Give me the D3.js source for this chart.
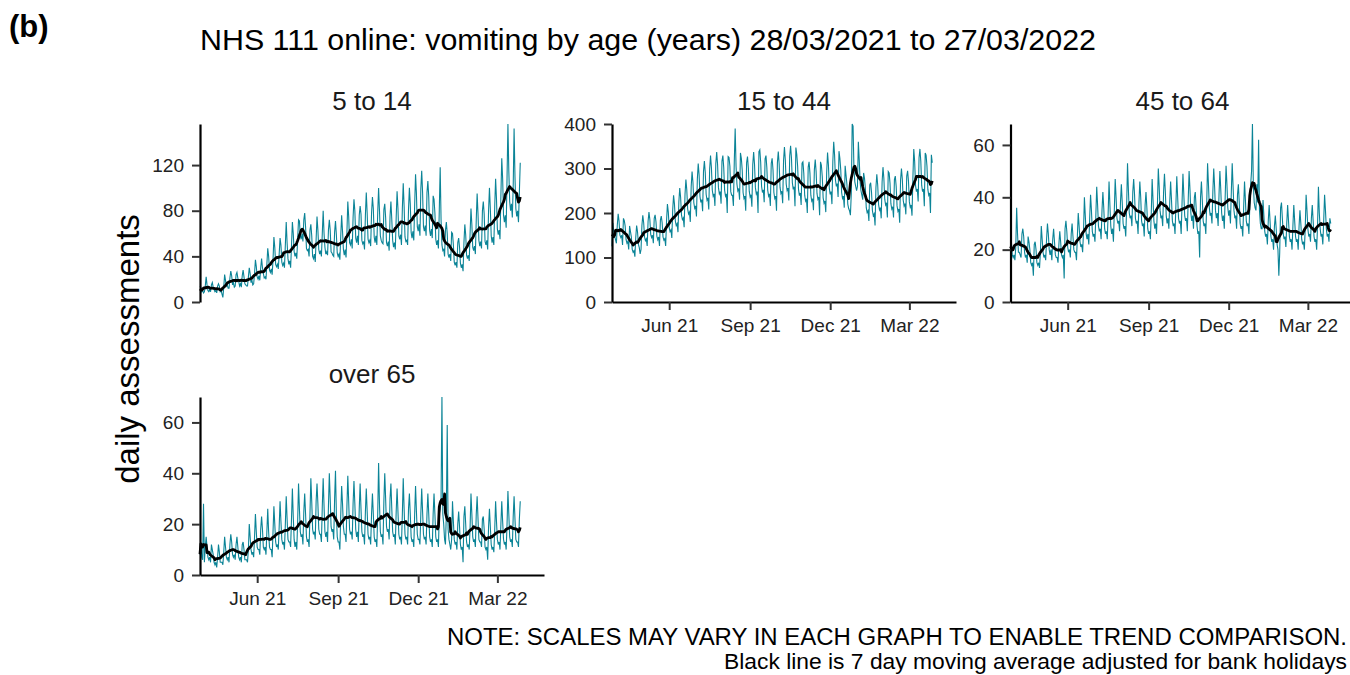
<!DOCTYPE html>
<html><head><meta charset="utf-8">
<script src="https://cdn.jsdelivr.net/npm/d3@7"></script>
<style>
body{margin:0;background:#fff}
svg{display:block}
text{font-family:"Liberation Sans",Arial,Helvetica,sans-serif}
</style>
</head><body>
<svg id="c" width="1350" height="675"></svg>
<script>
// ---------------- DATA ----------------
const startDate = "2021-03-28";
const endDate = "2022-03-27";
const axisEndDate = "2022-04-23";
const titleText = "NHS 111 online: vomiting by age (years) 28/03/2021 to 27/03/2022";
const panelNames = ["5 to 14", "15 to 44", "45 to 64", "over 65"];
const xTickDates = ["2021-06-01", "2021-09-01", "2021-12-01", "2022-03-01"];
const yTicks5to14 = [0, 40, 80, 120];
const yTicks15to44 = [0, 100, 200, 300, 400];
const yTicks45to64 = [0, 20, 40, 60];
const yTicksOver65 = [0, 20, 40, 60];

// daily assessments, one value per day from 28/03/2021 (Sunday)
const age5to14 = [
14,13,9,10,8,9,14, 22,15,10,9,11,9,15, 17,13,11,9,10,8,14, 16,14,9,10,7,4,13,
24,19,14,15,12,12,21, 27,23,15,17,13,14,24, 26,21,18,14,16,13,23, 28,22,16,15,14,14,22,
30,25,17,19,15,16,25, 37,31,22,20,23,19,30, 38,30,25,21,22,20,33, 47,40,28,26,29,24,37,
57,48,33,31,33,29,42, 56,50,35,32,34,30,50, 70,52,38,33,36,30,49, 70,60,44,40,43,38,55,
72,71,58,55,60,53,72, 78,66,47,45,46,40,63, 68,58,40,38,42,35,55, 75,63,46,42,45,40,60,
80,60,48,42,44,41,63, 72,63,44,43,41,40,61, 71,59,43,40,42,37,58, 76,62,46,41,46,39,61,
88,75,52,50,55,47,74, 90,80,56,52,58,50,76, 84,77,54,51,53,46,76, 96,78,55,52,54,49,78,
92,82,57,52,58,50,78, 100,80,58,54,52,51,81, 86,74,52,49,53,45,75, 88,72,54,48,52,46,74,
97,82,58,55,59,50,82, 104,84,57,53,54,50,81, 100,86,61,56,62,54,85, 112,95,66,62,68,58,99,
115,96,66,62,67,58,96, 106,92,63,58,64,56,93, 90,78,55,50,54,47,81, 118,72,50,45,46,40,63,
70,60,42,39,42,36,61, 60,50,35,32,35,30,52, 56,48,34,30,33,27,52, 68,59,41,38,41,36,60,
82,68,48,45,49,42,72, 95,77,54,49,53,47,80, 88,77,53,50,54,46,80, 100,82,58,52,57,50,84,
108,90,64,59,63,55,93, 126,108,76,70,76,65,109, 156,115,88,80,86,74,101, 152,110,82,75,80,70,96,
122];

const age15to44 = [
125,178,158,148,140,132,172, 198,182,150,145,150,128,188, 183,170,140,132,136,118,171, 158,146,118,112,115,102,145,
172,158,130,122,108,118,172, 195,178,146,138,142,126,181, 202,186,152,145,150,132,188, 196,180,148,140,146,126,184,
193,178,146,139,142,126,182, 220,202,167,158,162,144,207, 240,220,182,172,176,157,225, 256,235,195,185,189,168,242,
275,252,209,198,202,180,259, 293,269,223,211,216,192,276, 311,286,237,224,230,204,293, 317,291,242,229,234,208,299,
329,302,251,238,243,216,311, 337,309,257,243,248,221,317, 329,302,251,238,243,200,327, 325,305,248,240,240,216,316,
390,305,265,250,255,230,335, 323,297,246,233,238,205,313, 327,300,249,236,241,214,309, 337,309,257,243,248,200,338,
342,314,260,246,252,224,322, 329,302,251,238,243,216,311, 323,297,246,233,238,205,313, 338,310,258,244,249,222,318,
348,319,265,251,256,228,328, 351,323,268,253,259,215,347, 332,305,253,239,245,218,312, 315,289,240,227,232,200,303,
315,289,240,227,232,206,297, 320,293,244,231,236,195,315, 307,282,234,222,227,202,290, 336,308,256,242,248,220,315,
360,330,274,260,266,236,339, 323,297,246,233,238,212,306, 285,265,220,210,205,195,245, 400,395,300,270,260,250,260,
360,320,270,250,240,230,290, 278,255,212,201,205,182,263, 268,246,205,194,198,172,257, 287,263,219,207,212,188,269,
303,278,231,218,223,190,293, 290,267,221,209,214,190,275, 283,260,216,204,209,178,274, 300,276,229,216,221,197,283,
295,271,225,213,218,194,278, 344,316,262,248,254,226,324, 344,316,262,248,254,215,335, 330,305,253,240,245,200,331,
313];

const age45to64 = [
27,23,18,17,18,16,21, 36,26,19,19,18,17,26, 28,25,19,17,18,15,25, 23,20,15,14,15,10,22,
23,20,15,14,15,13,19, 29,24,19,17,18,16,24, 30,26,20,18,20,16,24, 28,23,18,17,17,15,22,
27,23,18,17,18,9,28, 31,27,21,19,20,17,26, 30,25,20,19,19,16,25, 34,29,23,21,22,19,27,
40,33,26,24,26,22,32, 41,35,27,25,26,23,33, 44,37,29,27,28,24,35, 42,36,28,26,27,24,34,
46,37,29,26,28,23,35, 47,40,32,30,31,27,38, 45,38,30,28,29,25,36, 53,43,34,32,33,29,42,
47,41,32,30,31,26,38, 46,40,31,29,30,25,37, 42,36,28,26,27,24,34, 47,39,31,28,30,26,37,
51,44,35,32,33,29,42, 49,42,33,30,32,28,38, 46,39,31,29,30,26,37, 48,40,32,30,31,26,38,
49,41,33,31,32,27,39, 50,43,34,31,33,28,40, 42,36,29,26,27,17,40, 46,39,31,29,30,26,37,
53,45,36,33,34,30,42, 51,44,35,32,34,29,41, 50,43,34,31,33,28,40, 52,45,36,33,35,30,42,
53,44,35,32,33,28,41, 45,38,30,28,29,25,36, 46,39,31,29,30,26,37, 45,50,68,45,38,36,35,
45,38,62,35,30,28,28, 39,33,27,25,26,22,31, 37,31,25,23,24,20,29, 33,28,22,20,10,19,36,
38,32,26,24,25,21,30, 37,31,25,23,24,20,29, 37,31,25,23,24,20,29, 35,30,24,22,23,20,28,
41,35,28,25,26,23,32, 37,31,25,23,24,20,29, 44,34,28,25,26,22,31, 41,35,28,25,26,23,32,
30];

const over65 = [
8,12,7,6,28,5,11, 15,11,7,6,7,5,12, 10,8,5,4,5,3,7, 12,9,5,5,5,4,9,
15,11,7,6,7,5,12, 16,13,8,7,8,6,12, 15,11,7,6,7,5,12, 13,10,6,6,6,5,10,
20,15,10,8,9,7,15, 24,17,11,10,10,8,18, 23,18,11,10,11,8,17, 26,17,11,10,10,7,17,
27,20,13,11,12,10,19, 29,21,14,12,13,10,20, 31,22,14,13,13,11,22, 34,23,14,11,13,10,21,
36,26,17,15,16,12,25, 32,24,15,13,14,11,24, 38,29,18,16,17,14,29, 36,28,18,16,16,13,27,
38,27,17,15,17,13,27, 40,30,19,17,18,14,30, 41,24,15,13,13,10,24, 35,28,19,16,16,13,27,
39,29,18,16,17,14,28, 37,28,18,15,17,13,26, 36,26,17,15,16,12,25, 34,25,16,14,15,12,24,
32,24,15,13,14,11,24, 44,28,17,15,16,12,29, 40,30,19,17,18,14,30, 36,26,17,15,16,12,25,
34,25,16,14,15,12,24, 38,26,16,14,15,12,26, 32,24,15,13,14,11,24, 35,25,16,14,14,12,24,
34,25,16,14,15,12,24, 32,24,15,13,14,11,24, 32,24,15,13,14,11,24, 26,30,70,24,20,14,12,
24,59,18,14,12,10,14, 29,21,14,12,13,10,20, 25,19,12,10,11,5,23, 27,20,13,11,12,10,19,
32,24,15,13,14,11,24, 31,22,14,13,13,11,22, 23,18,11,10,11,6,19, 26,19,12,10,11,9,18,
29,21,14,12,13,10,20, 29,21,14,12,13,10,20, 33,24,15,13,14,11,23, 31,22,14,13,13,11,22,
29];

// ---------------- DRAW ----------------
const svg = d3.select("#c");
const parse = d3.utcParse("%Y-%m-%d");
const dates = d3.utcDay.range(parse(startDate), d3.utcDay.offset(parse(endDate), 1));
const PW = 344, PH = 178;
const TEAL = "#0b8497";

const x = d3.scaleUtc().domain([parse(startDate), parse(axisEndDate)]).range([0, PW]);

function movingAvg(v) {
  return v.map((_, i) => {
    const lo = Math.max(0, i - 3), hi = Math.min(v.length - 1, i + 3);
    return d3.mean(v.slice(lo, hi + 1));
  });
}

const panels = [
  {name: panelNames[0], values: age5to14, ticks: yTicks5to14, left: 200, top: 124, xAxis: false},
  {name: panelNames[1], values: age15to44, ticks: yTicks15to44, left: 612, top: 124, xAxis: true},
  {name: panelNames[2], values: age45to64, ticks: yTicks45to64, left: 1010.5, top: 124, xAxis: true},
  {name: panelNames[3], values: over65, ticks: yTicksOver65, left: 200, top: 397, xAxis: true}
];

panels.forEach(p => {
  const g = svg.append("g").attr("transform", `translate(${p.left},${p.top})`);
  const y = d3.scaleLinear().domain([0, d3.max(p.values)]).range([PH, 0]);

  const line = d3.line().x((d, i) => x(dates[i])).y(d => y(d));
  g.append("path").datum(p.values).attr("d", line)
    .attr("fill", "none").attr("stroke", TEAL).attr("stroke-width", 1.1);
  g.append("path").datum(movingAvg(p.values)).attr("d", line)
    .attr("fill", "none").attr("stroke", "#000").attr("stroke-width", 2.8)
    .attr("stroke-linejoin", "round");

  const ya = g.append("g").call(d3.axisLeft(y).tickValues(p.ticks).tickSize(8).tickPadding(8).tickSizeOuter(0));
  ya.select(".domain").attr("stroke", "#000").attr("stroke-width", 2.2);
  ya.selectAll(".tick line").attr("stroke", "#333").attr("stroke-width", 2);
  ya.selectAll(".tick text").attr("font-size", 19).attr("fill", "#222")
    .attr("font-family", "Liberation Sans, Arial, sans-serif");

  if (p.xAxis) {
    const xa = g.append("g").attr("transform", `translate(0,${PH})`)
      .call(d3.axisBottom(x).tickValues(xTickDates.map(parse))
        .tickFormat(d3.utcFormat("%b %y")).tickSize(8).tickPadding(9).tickSizeOuter(0));
    xa.select(".domain").attr("stroke", "#000").attr("stroke-width", 2.2);
    xa.selectAll(".tick line").attr("stroke", "#333").attr("stroke-width", 2);
    xa.selectAll(".tick text").attr("font-size", 19).attr("fill", "#222")
      .attr("font-family", "Liberation Sans, Arial, sans-serif");
  }

  svg.append("text").attr("x", p.left + PW / 2).attr("y", p.top - 14)
    .attr("text-anchor", "middle").attr("font-size", 26).attr("fill", "#1a1a1a")
    .text(p.name);
});

svg.append("text").attr("x", 9).attr("y", 37).attr("font-size", 31)
  .attr("font-weight", "bold").text("(b)");
svg.append("text").attr("x", 200).attr("y", 50).attr("font-size", 30.4)
  .attr("fill", "#000").text(titleText);
svg.append("text").attr("transform", "translate(139,349) rotate(-90)")
  .attr("text-anchor", "middle").attr("font-size", 33).text("daily assessments");

svg.append("text").attr("x", 1347).attr("y", 645).attr("text-anchor", "end")
  .attr("font-size", 23).attr("font-family", "Liberation Sans Narrow, Liberation Sans, Arial, sans-serif")
  .attr("textLength", 900).attr("lengthAdjust", "spacingAndGlyphs")
  .text("NOTE: SCALES MAY VARY IN EACH GRAPH TO ENABLE TREND COMPARISON.");
svg.append("text").attr("x", 1347).attr("y", 669).attr("text-anchor", "end")
  .attr("font-size", 22).attr("font-family", "Liberation Sans Narrow, Liberation Sans, Arial, sans-serif")
  .attr("textLength", 623).attr("lengthAdjust", "spacingAndGlyphs")
  .text("Black line is 7 day moving average adjusted for bank holidays");
</script>
</body></html>
